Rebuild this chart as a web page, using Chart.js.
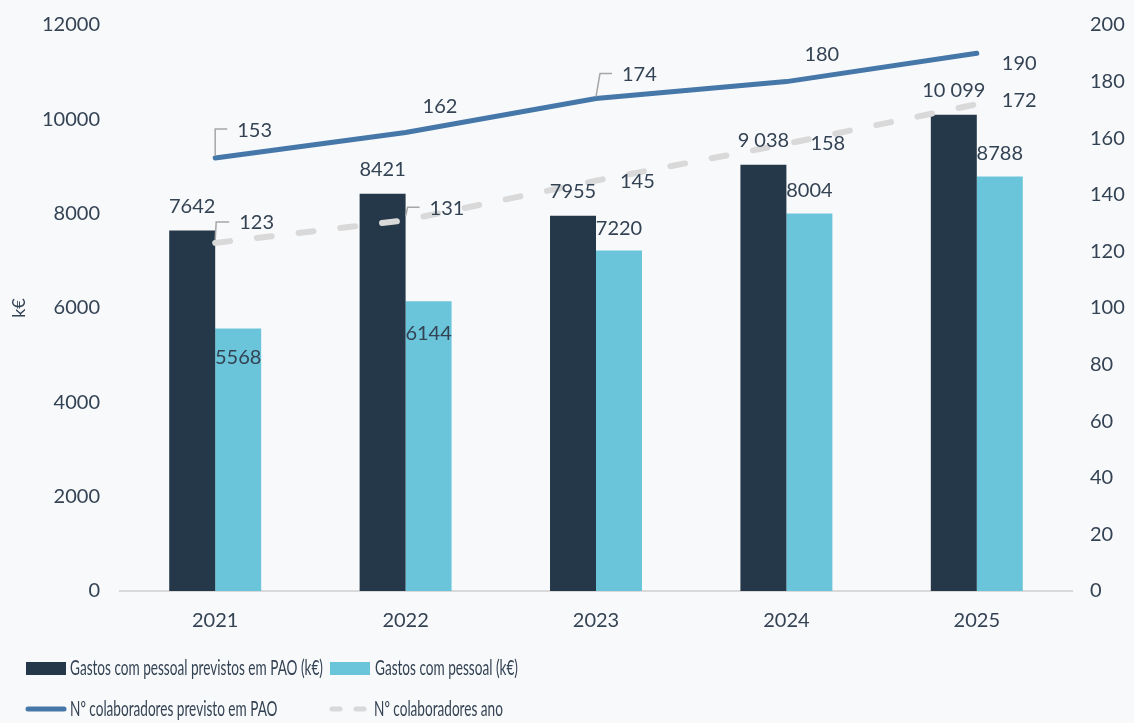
<!DOCTYPE html>
<html>
<head>
<meta charset="utf-8">
<script src="https://cdn.jsdelivr.net/npm/chart.js@4/dist/chart.umd.min.js"></script>
<style>
  html, body { margin: 0; padding: 0; background: #F8F9FB; }
  #wrap { position: relative; width: 1134px; height: 723px; }
</style>
</head>
<body>
<div id="wrap"><canvas id="c" width="1134" height="723"></canvas></div>
<script>
// ---- data ----
const years = ['2021', '2022', '2023', '2024', '2025'];
const gastosPAO = [7642, 8421, 7955, 9038, 10099];
const gastos = [5568, 6144, 7220, 8004, 8788];
const colabPAO = [153, 162, 174, 180, 190];
const colabAno = [123, 131, 145, 158, 172];
const gastosPAOLabels = ['7642', '8421', '7955', '9 038', '10 099'];
const gastosLabels = ['5568', '6144', '7220', '8004', '8788'];
const leftTicks = [0, 2000, 4000, 6000, 8000, 10000, 12000];
const rightTicks = [0, 20, 40, 60, 80, 100, 120, 140, 160, 180, 200];
const seriesNames = ['Gastos com pessoal previstos em PAO (k€)', 'Gastos com pessoal (k€)',
                     'Nº colaboradores previsto em PAO', 'Nº colaboradores ano'];

// ---- styles ----
const C_DARK = '#243849';
const C_LIGHT = '#6AC5DA';
const C_BLUE = '#4677A9';
const C_GRAY = '#D9D9D9';
const C_TEXT = '#344354';
const C_LEADER = '#A6A6A6';
const FONT = 'Lato, "Open Sans", sans-serif';

// label placements (offsets from the mark, px)
const lightBarDy = [29, 32, -22, -23, -23];
const solidLbl = [
  {dx: 22, dy: -27, lead: [[0,-2],[0,-29],[12,-29]]},
  {dx: 17, dy: -26},
  {dx: 26, dy: -24, lead: [[0,-2],[4,-25],[16,-25]]},
  {dx: 18, dy: -27},
  {dx: 25, dy: 10}
];
const dashLbl = [
  {dx: 24, dy: -20, lead: [[0,-3],[1,-21],[14,-21]]},
  {dx: 24, dy: -12, lead: [[0,-4],[2,-13],[14,-13]]},
  {dx: 24, dy: 1},
  {dx: 24, dy: 0},
  {dx: 25, dy: -4}
];

const bgPlugin = {
  id: 'bg',
  beforeDraw(chart) {
    const ctx = chart.ctx;
    ctx.save();
    ctx.fillStyle = '#F8F9FB';
    ctx.fillRect(0, 0, chart.width, chart.height);
    ctx.restore();
  }
};

const labelPlugin = {
  id: 'labels',
  afterDatasetsDraw(chart) {
    const ctx = chart.ctx;
    ctx.save();
    ctx.font = '20px ' + FONT;
    ctx.fillStyle = C_TEXT;
    ctx.textBaseline = 'middle';
    chart.getDatasetMeta(0).data.forEach((el, i) => {
      ctx.textAlign = 'center';
      ctx.fillText(gastosPAOLabels[i], el.x, el.y - 24);
    });
    chart.getDatasetMeta(1).data.forEach((el, i) => {
      ctx.textAlign = 'center';
      ctx.fillText(gastosLabels[i], el.x, el.y + lightBarDy[i]);
    });
    const drawLine = (metaIdx, values, cfg) => {
      chart.getDatasetMeta(metaIdx).data.forEach((el, i) => {
        const c = cfg[i];
        if (c.lead) {
          ctx.beginPath();
          ctx.strokeStyle = C_LEADER;
          ctx.lineWidth = 1.5;
          c.lead.forEach((p, k) => {
            if (k === 0) ctx.moveTo(el.x + p[0], el.y + p[1]);
            else ctx.lineTo(el.x + p[0], el.y + p[1]);
          });
          ctx.stroke();
        }
        ctx.textAlign = 'left';
        ctx.fillText(String(values[i]), el.x + c.dx, el.y + c.dy);
      });
    };
    drawLine(2, colabPAO, solidLbl);
    drawLine(3, colabAno, dashLbl);
    ctx.restore();
  }
};

const legendPlugin = {
  id: 'customLegend',
  afterDraw(chart) {
    const ctx = chart.ctx;
    ctx.save();
    ctx.font = '21px ' + FONT;
    ctx.fillStyle = C_TEXT;
    ctx.textBaseline = 'middle';
    ctx.textAlign = 'left';
    const w0 = ctx.measureText(seriesNames[0]).width;
    const sx = 253 / w0;
    const txt = (s, x, y) => {
      ctx.save();
      ctx.translate(x, y);
      ctx.scale(sx, 1);
      ctx.fillText(s, 0, 0);
      ctx.restore();
    };
    const r1 = 668, r2 = 709;
    ctx.fillStyle = C_DARK; ctx.fillRect(26, r1 - 6, 40, 13);
    ctx.fillStyle = C_LIGHT; ctx.fillRect(330, r1 - 6, 40, 13);
    ctx.lineCap = 'round';
    ctx.lineWidth = 5;
    ctx.strokeStyle = C_BLUE;
    ctx.beginPath(); ctx.moveTo(28, r2); ctx.lineTo(64, r2); ctx.stroke();
    ctx.strokeStyle = C_GRAY;
    ctx.beginPath(); ctx.moveTo(332, r2); ctx.lineTo(340, r2); ctx.stroke();
    ctx.beginPath(); ctx.moveTo(356, r2); ctx.lineTo(364, r2); ctx.stroke();
    ctx.fillStyle = C_TEXT;
    txt(seriesNames[0], 70, r1);
    txt(seriesNames[1], 375, r1);
    txt(seriesNames[2], 70, r2);
    txt(seriesNames[3], 374, r2);
    ctx.restore();
  }
};

new Chart(document.getElementById('c'), {
  data: {
    labels: years,
    datasets: [
      { type: 'bar', label: seriesNames[0], data: gastosPAO, backgroundColor: C_DARK,
        yAxisID: 'y', order: 3, categoryPercentage: 0.483, barPercentage: 1.0 },
      { type: 'bar', label: seriesNames[1], data: gastos, backgroundColor: C_LIGHT,
        yAxisID: 'y', order: 3, categoryPercentage: 0.483, barPercentage: 1.0 },
      { type: 'line', label: seriesNames[2], data: colabPAO, borderColor: C_BLUE, borderWidth: 5,
        pointRadius: 0, tension: 0, yAxisID: 'y1', order: 0, borderCapStyle: 'round', fill: false },
      { type: 'line', label: seriesNames[3], data: colabAno, borderColor: C_GRAY, borderWidth: 6,
        borderDash: [15, 27], borderCapStyle: 'round', pointRadius: 0, tension: 0,
        yAxisID: 'y1', order: 1, fill: false }
    ]
  },
  options: {
    responsive: false,
    animation: false,
    layout: { padding: { top: 25, left: 0, right: 0, bottom: 0 } },
    plugins: { legend: { display: false }, tooltip: { enabled: false } },
    scales: {
      x: {
        grid: { display: false, drawTicks: false },
        border: { display: true, color: C_GRAY, width: 2 },
        ticks: { color: C_TEXT, font: { family: FONT, size: 20 }, padding: 18 },
        afterFit(s) { s.height = 132; }
      },
      y: {
        position: 'left', min: 0, max: 12000,
        grid: { display: false, drawTicks: false },
        border: { display: false },
        afterBuildTicks(s) { s.ticks = leftTicks.map(v => ({ value: v })); },
        ticks: { color: C_TEXT, font: { family: FONT, size: 20 }, padding: 20,
                 callback: v => String(v) },
        title: { display: true, text: 'k€', color: C_TEXT, font: { family: FONT, size: 18 }, padding: { top: 8, bottom: 0 } },
        afterFit(s) { s.width = 120; s.paddingTop = 0; s.paddingBottom = 0; }
      },
      y1: {
        position: 'right', min: 0, max: 200,
        grid: { display: false, drawTicks: false },
        border: { display: false },
        afterBuildTicks(s) { s.ticks = rightTicks.map(v => ({ value: v })); },
        ticks: { color: C_TEXT, font: { family: FONT, size: 20 }, padding: 18,
                 callback: v => String(v) },
        afterFit(s) { s.width = 62; s.paddingTop = 0; s.paddingBottom = 0; }
      }
    }
  },
  plugins: [bgPlugin, labelPlugin, legendPlugin]
});
</script>
</body>
</html>
